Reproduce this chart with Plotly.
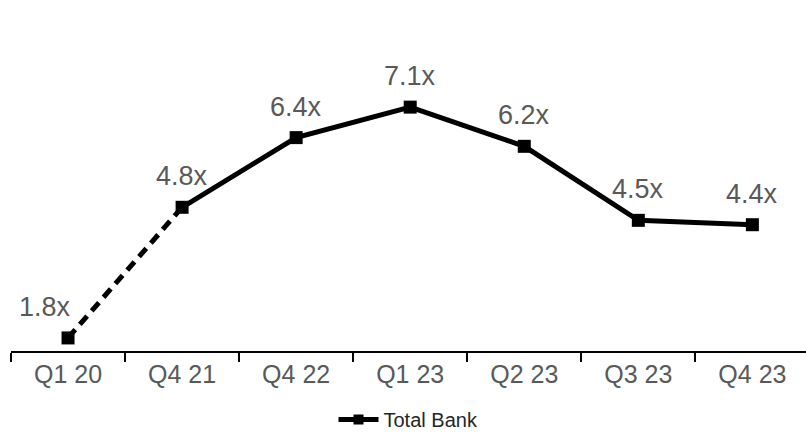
import plotly.graph_objects as go

# Quarterly multiples for the Total Bank series
quarters = ["Q1 20", "Q4 21", "Q4 22", "Q1 23", "Q2 23", "Q3 23", "Q4 23"]
multiples = [1.8, 4.8, 6.4, 7.1, 6.2, 4.5, 4.4]
series_name = "Total Bank"

LINE_COLOR = "#000000"
TEXT_COLOR = "#595959"
FONT = "Arial, Liberation Sans, sans-serif"

fig = go.Figure()

# first interval drawn dashed
fig.add_trace(go.Scatter(
    x=quarters[:2], y=multiples[:2], mode="lines",
    line=dict(color=LINE_COLOR, width=5, dash="11px,7px"),
    showlegend=False, hoverinfo="skip",
))

# remaining intervals solid
fig.add_trace(go.Scatter(
    x=quarters[1:], y=multiples[1:], mode="lines",
    line=dict(color=LINE_COLOR, width=5),
    showlegend=False, hoverinfo="skip",
))

# square markers on every point
fig.add_trace(go.Scatter(
    x=quarters, y=multiples, mode="markers", name=series_name,
    marker=dict(symbol="square", size=13, color=LINE_COLOR),
    showlegend=False,
))

# legend entry: solid line with square marker
fig.add_trace(go.Scatter(
    x=[None], y=[None], mode="lines+markers", name=series_name,
    line=dict(color=LINE_COLOR, width=5),
    marker=dict(symbol="square", size=10, color=LINE_COLOR),
))

# value labels above each point
for i, (q, v) in enumerate(zip(quarters, multiples)):
    fig.add_annotation(
        x=q, y=v, text=f"{v}x", showarrow=False,
        xshift=-23 if i == 0 else 0, yshift=31,
        font=dict(family=FONT, size=27, color=TEXT_COLOR),
    )

fig.update_layout(
    width=806, height=439,
    margin=dict(l=11, r=0, t=0, b=86),
    paper_bgcolor="white", plot_bgcolor="white",
    font=dict(family=FONT, color=TEXT_COLOR),
    legend=dict(
        orientation="h", x=0.5, xanchor="center", y=-0.195, yanchor="middle",
        font=dict(family=FONT, size=20, color="#262626"),
        itemwidth=40,
    ),
    xaxis=dict(
        type="category", range=[-0.5, 6.47],
        showline=True, linecolor="#000000", linewidth=2,
        ticks="outside", tickson="boundaries", ticklen=9, tickwidth=2,
        tickcolor="#000000", showgrid=False, zeroline=False,
        tickfont=dict(family=FONT, size=25, color=TEXT_COLOR),
    ),
    yaxis=dict(range=[1.5, 9.56], visible=False, showgrid=False, zeroline=False),
)

fig.write_html("out.html")
